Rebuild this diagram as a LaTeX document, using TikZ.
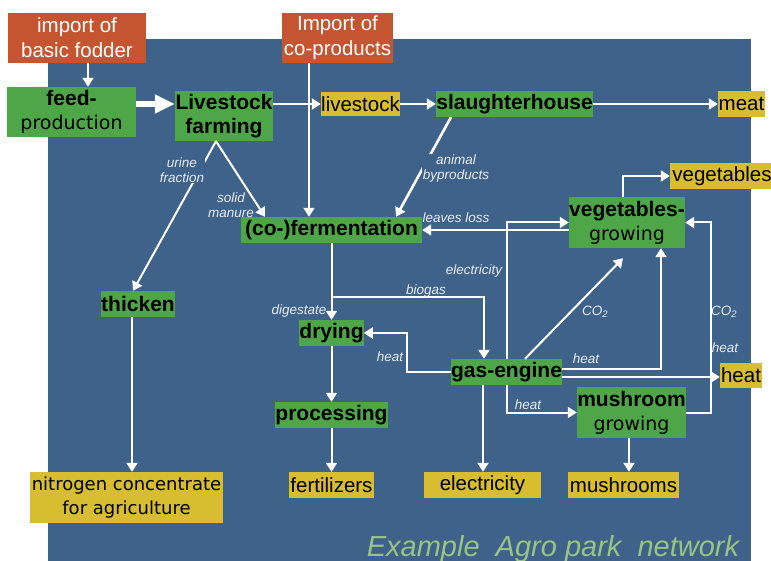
\documentclass[tikz,border=0pt]{standalone}
\usepackage{fontspec}
\setmainfont{Liberation Sans}
\newfontfamily\widefont{DejaVu Sans}
\usetikzlibrary{arrows.meta}
\definecolor{parkblue}{RGB}{62,98,137}
\definecolor{importred}{RGB}{197,85,49}
\definecolor{stepgreen}{RGB}{78,166,72}
\definecolor{outyellow}{RGB}{215,189,47}
\definecolor{titlegreen}{RGB}{152,196,134}
\definecolor{notegray}{RGB}{232,236,244}
\newcommand{\thinword}[1]{{\widefont\mdseries\fontsize{19}{24}\selectfont #1}}

\begin{document}
\begin{tikzpicture}[x=1pt, y=-1pt,
    importbox/.style={fill=importred, text=white, inner sep=0pt, align=center,
      font=\fontsize{20.5}{25}\selectfont},
    procbox/.style={fill=stepgreen, inner sep=0pt, align=center,
      font=\bfseries\fontsize{21}{24}\selectfont},
    outbox/.style={fill=outyellow, inner sep=0pt, align=center,
      font=\fontsize{20.5}{24}\selectfont},
    flow/.style={draw=white, line width=2pt, -{Triangle[length=9pt,width=11pt]}},
    bigflow/.style={draw=white, line width=6pt, -{Triangle[length=20pt,width=18pt]}},
    note/.style={text=notegray, font=\itshape\fontsize{13.5}{15}\selectfont,
      align=center, inner sep=1pt}]
    \useasboundingbox (0,0) rectangle (771,561);
    \fill[parkblue] (48,39) rectangle (751,561);
        % boxes
        \node[importbox, minimum width=138pt, minimum height=50pt] (fodder) at (77,38) {import of\\basic fodder};
        \node[importbox, minimum width=111pt, minimum height=50pt] (coprod) at (337.5,38) {Import of\\co-products};
        \node[procbox, minimum width=129pt, minimum height=50pt] (feed) at (71.5,112) {feed-\\\thinword{production}};
        \node[procbox, minimum width=98pt, minimum height=50pt] (farming) at (224,116) {Livestock\\farming};
        \node[outbox, minimum width=79pt, minimum height=24pt] (livestock) at (360.5,104) {livestock};
        \node[procbox, minimum width=157pt, minimum height=26pt] (slaughter) at (514.5,104) {slaughterhouse};
        \node[outbox, minimum width=47pt, minimum height=26pt] (meat) at (741.5,104) {meat};
        \node[outbox, minimum width=104pt, minimum height=26pt] (vegetables) at (722,176) {vegetables};
        \node[procbox, minimum width=116pt, minimum height=51pt] (veggrow) at (627,222.5) {vegetables-\\\thinword{growing}};
        \node[procbox, minimum width=181pt, minimum height=26pt] (ferment) at (331.5,230) {(co-)fermentation};
        \node[procbox, minimum width=74pt, minimum height=26pt] (thicken) at (138,304) {thicken};
        \node[procbox, minimum width=64pt, minimum height=26pt] (drying) at (331.5,333) {drying};
        \node[procbox, minimum width=111pt, minimum height=26pt] (gasengine) at (506.5,372) {gas-engine};
        \node[outbox, minimum width=42pt, minimum height=25pt] (heat) at (741,375.5) {heat};
        \node[procbox, minimum width=109pt, minimum height=51pt] (mushgrow) at (631.5,412.5) {mushroom\\\thinword{growing}};
        \node[procbox, minimum width=113pt, minimum height=26pt] (processing) at (331.5,415) {processing};
        \node[outbox, minimum width=193pt, minimum height=51pt,
          font=\widefont\fontsize{18}{24}\selectfont] (nitrogen) at (126.5,497.5) {nitrogen concentrate\\for agriculture};
        \node[outbox, minimum width=85pt, minimum height=26pt] (fertilizers) at (331.5,485) {fertilizers};
        \node[outbox, minimum width=117pt, minimum height=26pt] (electricity) at (482.5,485) {electricity};
        \node[outbox, minimum width=111pt, minimum height=26pt] (mushrooms) at (623.5,485) {mushrooms};
        \node[anchor=base, text=titlegreen, font=\itshape\fontsize{29}{30}\selectfont] (title) at (553,556)
          {Example\ \ Agro park\ \ network};
        % flows
        \draw[flow] ([xshift=11pt]fodder.south) -- ([xshift=11pt]fodder.south |- feed.north);
        \draw[bigflow] ([yshift=8pt]feed.east) -- ([yshift=8pt]feed.east -| farming.west);
        \draw[flow] ([yshift=12pt]farming.east) -- (livestock.west);
        \draw[flow] ([xshift=-28.5pt]coprod.south) -- ([xshift=-28.5pt]coprod.south |- ferment.north);
        \draw[flow] (livestock) -- (slaughter);
        \draw[flow] (slaughter) -- (meat);
        \draw[flow, line width=2.6pt] ([xshift=-63.5pt]slaughter.south) -- ([xshift=64.5pt]ferment.north);
        \node[note, fill=parkblue] (lblanimal) at (456,169) {animal\\byproducts};
        \draw[flow] ([xshift=-8pt]farming.south) -- ([xshift=-66.5pt]ferment.north);
        \node[note] (lblsolid) at (231,205) {solid\\manure};
        \draw[flow] ([xshift=-8pt]farming.south) -- ([xshift=-5pt]thicken.north);
        \node[note, fill=parkblue] (lblurine) at (182,170) {urine\\fraction};
        \draw[flow] ([xshift=-6pt]thicken.south) -- ([xshift=-6pt]thicken.south |- nitrogen.north);
        \draw[flow] (ferment) -- (drying);
        \node[note] (lbldigest) at (299,311) {digestate};
        \coordinate (biosplit) at (331.5,297);
        \draw[flow] (biosplit) -| ([xshift=-22.5pt]gasengine.north);
        \node[note] (lblbiogas) at (426,291) {biogas};
        \draw[flow] (drying) -- (processing);
        \draw[flow] (processing) -- (fertilizers);
        \draw[flow] (gasengine.west) -- ++(-44,0) |- (drying.east);
        \node[note] (lblheatdry) at (390,357) {heat};
        \draw[flow] ([xshift=-23.5pt]gasengine.south) -- ([xshift=-23.5pt]gasengine.south |- electricity.north);
        \draw[flow] (gasengine.north) |- (veggrow.west);
        \node[note] (lblelec) at (474,271) {electricity};
        \draw[flow] (gasengine.south) |- (mushgrow.west);
        \node[note] (lblheatmush) at (528,405) {heat};
        \draw[flow] (veggrow.west |- ferment.east) -- (ferment.east);
        \node[note] (lblleaves) at (456,218) {leaves loss};
        \draw[flow] ([xshift=18.5pt]gasengine.north) -- ([xshift=-4pt,yshift=-10pt]veggrow.south);
        \node[note] (lblcoa) at (595,312) {CO\textsubscript{2}};
        \draw[flow] ([yshift=3pt]gasengine.east) -| ([xshift=34pt]veggrow.south);
        \node[note] (lblheatveg) at (586,359) {heat};
        \draw[flow] ([yshift=-5pt]gasengine.east) -- ([yshift=-5pt]gasengine.east -| heat.west);
        \draw[flow] (mushgrow.east) -- ++(25,0) |- (veggrow.east);
        \node[note] (lblcob) at (724,312) {CO\textsubscript{2}};
        \node[note] (lblheatb) at (725,348) {heat};
        \draw[flow] ([xshift=-4pt]veggrow.north) |- (vegetables.west);
        \draw[flow, line width=2.6pt] ([xshift=-2.5pt]mushgrow.south) -- ([xshift=-2.5pt]mushgrow.south |- mushrooms.north);
\end{tikzpicture}
\end{document}
